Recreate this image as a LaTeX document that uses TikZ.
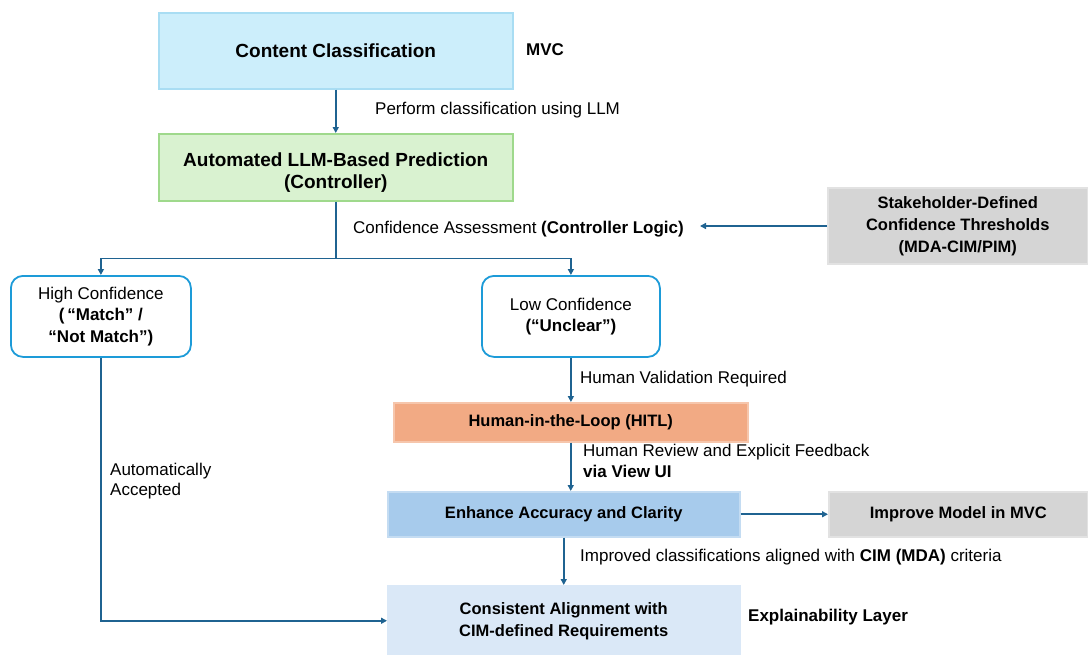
\documentclass[tikz,border=0pt]{standalone}
\usepackage{fontspec}
\setmainfont{Liberation Sans}
\usetikzlibrary{arrows.meta,positioning}

\definecolor{arrowblue}{HTML}{1F6391}
\definecolor{cyanfill}{HTML}{CCEEFB}
\definecolor{cyanline}{HTML}{A9DDF3}
\definecolor{greenfill}{HTML}{D9F2D0}
\definecolor{greenline}{HTML}{9FD98C}
\definecolor{roundline}{HTML}{1D9BD8}
\definecolor{grayfill}{HTML}{D5D5D5}
\definecolor{grayline}{HTML}{E2E2E2}
\definecolor{salmonfill}{HTML}{F2AA84}
\definecolor{salmonline}{HTML}{F6C6AC}
\definecolor{bluefill}{HTML}{A7CBEC}
\definecolor{blueline}{HTML}{C4DCF2}
\definecolor{paleblue}{HTML}{DAE8F7}

\tikzset{
  box/.style={draw, line width=1.5pt, anchor=north west, align=center,
    inner sep=0pt, font=\bfseries\fontsize{16.5}{22}\selectfont},
  bigbox/.style={box, font=\bfseries\fontsize{19}{22}\selectfont},
  choice/.style={box, draw=roundline, fill=white, rounded corners=12pt,
    line width=1.8pt, font=\fontsize{17}{21.5}\selectfont},
  lbl/.style={anchor=west, inner sep=0pt, align=left,
    font=\fontsize{17}{21}\selectfont},
  side/.style={anchor=west, inner sep=0pt, font=\bfseries\fontsize{17}{21}\selectfont},
  link/.style={draw=arrowblue, line width=1.6pt},
  arr/.style={link, -{Triangle[length=6pt,width=6pt]}},
}

\begin{document}
\begin{tikzpicture}[x=1pt, y=-1pt]
\useasboundingbox (0,0) rectangle (1088,654);

% main column
\node[bigbox, fill=cyanfill, draw=cyanline, minimum width=354pt, minimum height=76pt]
  (cc) at (158,12) {Content Classification};
\node[bigbox, fill=greenfill, draw=greenline, minimum width=354pt, minimum height=67pt]
  (auto) at (158,133) {\rule{0pt}{24pt}Automated LLM-Based Prediction\\(Controller)};

% confidence branches
\node[choice, minimum width=180pt, minimum height=81pt]
  (high) at (10,275) {High Confidence\\\textbf{(\,“Match” /}\\\textbf{“Not Match”)}};
\node[choice, minimum width=178pt, minimum height=81pt]
  (low) at (481,275) {Low Confidence\\\textbf{(“Unclear”)}};

% human review chain
\node[box, fill=salmonfill, draw=salmonline, minimum width=354pt, minimum height=39pt]
  (hitl) at (393,402) {Human-in-the-Loop (HITL)};
\node[box, fill=bluefill, draw=blueline, minimum width=352pt, minimum height=45pt]
  (enh) at (387,491) {Enhance Accuracy and Clarity};
\node[box, fill=paleblue, draw=paleblue, minimum width=352pt, minimum height=70pt]
  (cons) at (387,585) {Consistent Alignment with\\CIM-defined Requirements};

% side boxes
\node[box, fill=grayfill, draw=grayline, minimum width=260pt, minimum height=76pt]
  (stake) at (827,187) {Stakeholder-Defined\\Confidence Thresholds\\(MDA-CIM/PIM)};
\node[box, fill=grayfill, draw=grayline, minimum width=259pt, minimum height=45pt]
  (impr) at (828,491) {Improve Model in MVC};

% side annotations
\node[side] (mvc) at (526,50) {MVC};
\node[side] (expl) at (748,617) {Explainability Layer};

% connector labels
\node[lbl] (l1) at (375,110) {Perform classification using LLM};
\node[lbl] (l2) at (353,229) {Confidence Assessment \textbf{(Controller Logic)}};
\node[lbl] (l3) at (580,379) {Human Validation Required};
\node[lbl, anchor=north west] (l4) at (583,444) {Human Review and Explicit Feedback\\\textbf{via View UI}};
\node[lbl] (l5) at (580,557) {Improved classifications aligned with \textbf{CIM (MDA)} criteria};
\node[lbl, anchor=north west, font=\fontsize{17}{20}\selectfont] (l6) at (110,463) {Automatically\\Accepted};

% connectors
\path (auto.south) ++(0,57) coordinate (split);
\coordinate (thr) at (700,226);
\draw[arr] (cc.south) -- (auto.north);
\draw[link] (auto.south) -- (split);
\draw[arr] (split) -| (high.north);
\draw[arr] (split) -| (low.north);
\draw[arr] (stake.west |- thr) -- (thr);
\draw[arr] (low.south) -- (low.south |- hitl.north);
\draw[arr] (hitl.south) -- (hitl.south |- enh.north);
\draw[arr] (enh.east) -- (impr.west);
\draw[arr] (enh.south) -- (cons.north);
\draw[arr] (high.south) |- (cons.west);
\end{tikzpicture}
\end{document}
